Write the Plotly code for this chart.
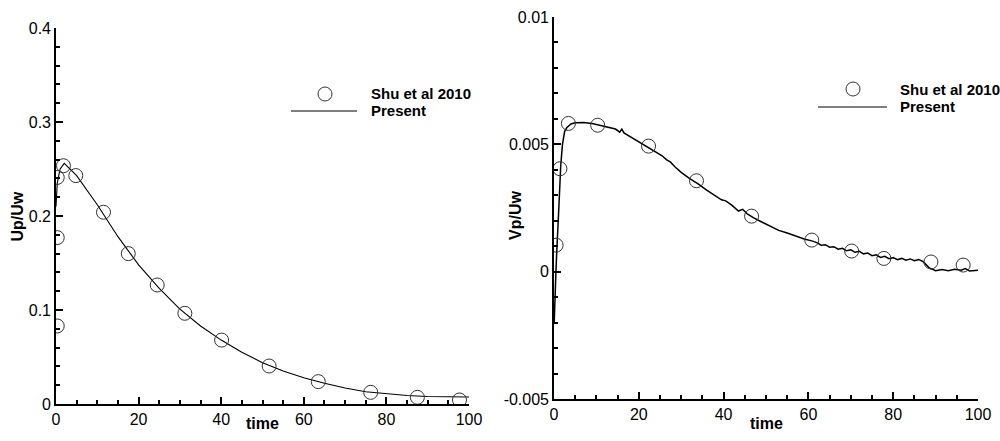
import plotly.graph_objects as go

# ---------------- data ----------------
left_ref_t = [0.3, 1.8, 0.3, 0.3, 4.8, 11.5, 17.5, 24.5, 31.2, 40.1, 51.6, 63.5, 76.2, 87.5, 97.7]
left_ref_u = [0.241, 0.2535, 0.177, 0.083, 0.243, 0.204, 0.160, 0.1266, 0.0965, 0.068, 0.0404, 0.0238, 0.0124, 0.0071, 0.0043]

left_line_t = [0, 0.3, 1, 2, 5, 10, 15, 20, 25, 30, 35, 40, 45, 50, 55, 60, 65, 70, 75, 80, 85, 90, 95, 100]
left_line_u = [0.21, 0.235, 0.25, 0.256, 0.243, 0.212, 0.178, 0.148, 0.123, 0.101, 0.083, 0.068, 0.055,
               0.044, 0.035, 0.028, 0.022, 0.017, 0.013, 0.011, 0.009, 0.008, 0.0075, 0.0075]

right_ref_t = [0.5, 1.4, 3.4, 10.3, 22.3, 33.6, 46.6, 60.8, 70.2, 77.8, 88.9, 96.5]
right_ref_v = [0.00104, 0.00404, 0.00582, 0.00575, 0.00493, 0.00357, 0.00218, 0.00124, 0.00081, 0.00052, 0.00038, 0.00026]

right_line_t = [0.05, 0.2, 0.35, 0.5, 0.65, 0.8, 1.0, 1.25, 1.6, 2.0, 2.5, 3.0, 4.0, 5.0, 7.0, 9.0, 11.0, 13.0,
                14.5, 15.5, 16.0, 16.5, 18, 20, 22, 24, 25.5, 26.5, 27.5, 28.5, 30, 32, 34, 36, 38, 39.5, 40.5,
                42, 43.5, 44.5, 45.5, 47, 49, 51, 53, 55, 57, 59, 61,
                62, 63, 64, 65, 66, 67, 68, 69, 70, 71, 72, 73, 74, 75, 76, 77, 78, 79, 80, 81, 82, 83, 84, 85,
                86, 87, 88, 88.5, 90, 91.5, 93, 94.5, 96, 97, 98, 99, 100]
right_line_v = [-0.0020, -0.0010, -0.0002, 0.0002, 0.0008, 0.0012, 0.0020, 0.0029, 0.0042, 0.0050, 0.0055,
                0.00565, 0.0058, 0.00585, 0.00586, 0.00582, 0.00575, 0.00568,
                0.0056, 0.00548, 0.0056, 0.00545, 0.0053, 0.0051, 0.00492, 0.0047, 0.00455, 0.0044, 0.0043,
                0.00412, 0.0039, 0.00365, 0.00345, 0.0032, 0.0030, 0.00282, 0.00278,
                0.0026, 0.00238, 0.00245, 0.00228, 0.00212, 0.00195, 0.0018, 0.00162, 0.00152, 0.0014, 0.00128, 0.0012,
                0.00114, 0.00104, 0.00106, 0.00096, 0.00098, 0.00088, 0.00092, 0.00082, 0.00086, 0.00076, 0.0008,
                0.0007, 0.00073, 0.00063, 0.00066, 0.00056, 0.0006, 0.00051, 0.00055, 0.00047, 0.00052, 0.00045,
                0.0005, 0.00043, 0.00048, 0.0004, 0.00025, 0.00015, 0.00004, 0.00008, 0.00004, 0.00009, 0.00006,
                0.00012, 0.00003, 0.00005, 0.00006]

x_major = [0, 20, 40, 60, 80, 100]
left_y_major = [0, 0.1, 0.2, 0.3, 0.4]
left_y_labels = ["0", "0.1", "0.2", "0.3", "0.4"]
right_y_major = [-0.005, 0, 0.005, 0.01]
right_y_labels = ["-0.005", "0", "0.005", "0.01"]

legend_labels = ["Shu et al 2010", "Present"]
x_title = "time"
left_y_title = "Up/Uw"
right_y_title = "Vp/Uw"

# ---------------- figure ----------------
W, H = 1000, 441
FONT = "Liberation Sans, Arial, sans-serif"

# plot area (pixels) shared by both panels
ML, MR, MT, MB = 56, 22, 17, 37
PW = W - ML - MR
PH = H - MT - MB

def px(x):
    return (x - ML) / PW

def py(y):
    return (H - MB - y) / PH

fig = go.Figure()

marker = dict(symbol="circle-open", size=14, color="#333333", line=dict(width=1, color="#333333"))

fig.add_trace(go.Scatter(x=left_line_t, y=left_line_u, mode="lines",
                         line=dict(color="black", width=1.1), xaxis="x", yaxis="y", showlegend=False))
fig.add_trace(go.Scatter(x=left_ref_t, y=left_ref_u, mode="markers", marker=marker,
                         xaxis="x", yaxis="y", showlegend=False))
fig.add_trace(go.Scatter(x=right_line_t, y=right_line_v, mode="lines",
                         line=dict(color="black", width=1.5), xaxis="x2", yaxis="y2", showlegend=False))
fig.add_trace(go.Scatter(x=right_ref_t, y=right_ref_v, mode="markers", marker=marker,
                         xaxis="x2", yaxis="y2", showlegend=False))

tickfont = dict(family=FONT, size=16, color="black")

def axis(domain, anchor, rng, tickvals, minor_step, ticktext=None):
    d = dict(domain=domain, anchor=anchor, range=rng, showgrid=False, zeroline=False, automargin=False,
             showline=True, linecolor="black", linewidth=1.6, mirror=False,
             ticks="inside", ticklen=7, tickwidth=2, tickcolor="black",
             tickmode="array", tickvals=tickvals, tickfont=tickfont,
             minor=dict(ticks="inside", ticklen=4, tickwidth=1.5, tickcolor="black",
                        tick0=0, dtick=minor_step, showgrid=False))
    if ticktext is not None:
        d["ticktext"] = ticktext
    return d

fig.update_layout(
    template="none",
    width=W, height=H, autosize=False,
    margin=dict(l=ML, r=MR, t=MT, b=MB, pad=0),
    paper_bgcolor="white", plot_bgcolor="white",
    xaxis=axis([px(56), px(469)], "y", [0, 100], x_major, 5),
    yaxis=axis([py(404), py(28)], "x", [0, 0.4], left_y_major, 0.02, left_y_labels),
    xaxis2=axis([px(554), px(978)], "y2", [0, 100], x_major, 5),
    yaxis2=axis([py(399), py(17)], "x2", [-0.005, 0.01], right_y_major, 0.001, right_y_labels),
)

title_font = dict(family=FONT, size=16, color="black")
ann = []
ann.append(dict(text="<b>%s</b>" % x_title, x=px(262.5), y=py(423), xref="paper", yref="paper",
                showarrow=False, font=title_font, xanchor="center", yanchor="middle"))
ann.append(dict(text="<b>%s</b>" % x_title, x=px(766), y=py(423), xref="paper", yref="paper",
                showarrow=False, font=title_font, xanchor="center", yanchor="middle"))
ann.append(dict(text="<b>%s</b>" % left_y_title, x=px(17.5), y=py(217), xref="paper", yref="paper",
                showarrow=False, font=title_font, textangle=-90, xanchor="center", yanchor="middle"))
ann.append(dict(text="<b>%s</b>" % right_y_title, x=px(515), y=py(216), xref="paper", yref="paper",
                showarrow=False, font=title_font, textangle=-90, xanchor="center", yanchor="middle"))

shapes = []
leg_font = dict(family=FONT, size=15, color="black")
for (cx, cy, lx0, lx1, ly, tx) in [(325, 94, 291, 357, 111, 369), (853, 89, 818, 887, 107, 898)]:
    shapes.append(dict(type="circle", xref="paper", yref="paper",
                       x0=px(cx - 7), x1=px(cx + 7), y0=py(cy + 7), y1=py(cy - 7),
                       line=dict(color="#333333", width=1)))
    shapes.append(dict(type="line", xref="paper", yref="paper",
                       x0=px(lx0), x1=px(lx1), y0=py(ly), y1=py(ly),
                       line=dict(color="black", width=1.1)))
    ann.append(dict(text="<b>%s</b>" % legend_labels[0], x=px(tx), y=py(cy), xref="paper", yref="paper",
                    showarrow=False, font=leg_font, xanchor="left", yanchor="middle"))
    ann.append(dict(text="<b>%s</b>" % legend_labels[1], x=px(tx), y=py(ly), xref="paper", yref="paper",
                    showarrow=False, font=leg_font, xanchor="left", yanchor="middle"))

fig.update_layout(annotations=ann, shapes=shapes)

fig.write_html("out.html")
